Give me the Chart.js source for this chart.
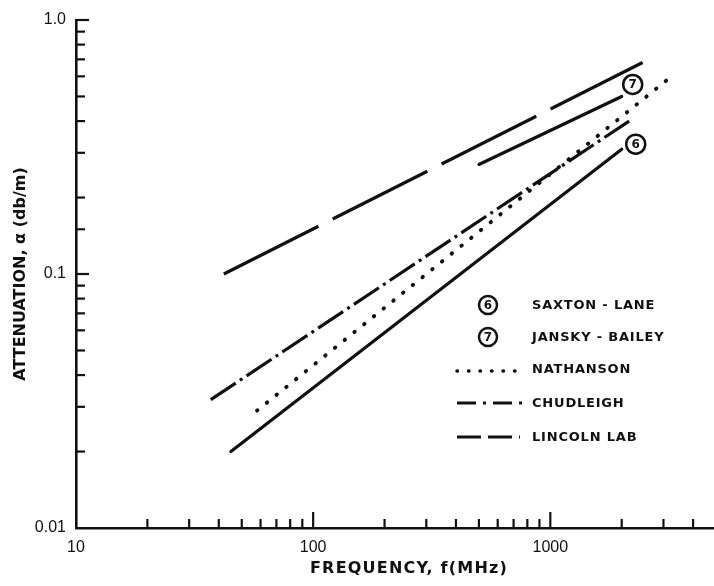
<!DOCTYPE html>
<html>
<head>
<meta charset="utf-8">
<script src="https://cdn.jsdelivr.net/npm/chart.js@4/dist/chart.umd.min.js"></script>
<style>
  html, body { margin: 0; padding: 0; background: #fff; }
  canvas { display: block; }
</style>
</head>
<body>
<canvas id="c" width="714" height="586"></canvas>
<script>
// Attenuation vs frequency, straight-line fits on log-log axes (endpoints of each line)
const saxtonLaneFreq   = [45, 2000];
const saxtonLaneAtten  = [0.020, 0.31];
const janskyBaileyFreq  = [500, 2000];
const janskyBaileyAtten = [0.27, 0.50];
const nathansonFreq    = [58, 3100];
const nathansonAtten   = [0.029, 0.58];
const chudleighFreq    = [37, 2150];
const chudleighAtten   = [0.032, 0.40];
const lincolnLabFreq   = [42, 2450];
const lincolnLabAtten  = [0.10, 0.68];

// Axis ticks
const xLabelTicks = [10, 100, 1000];
const xTickLabels = ['10', '100', '1000'];
const yLabelTicks = [0.01, 0.1, 1];
const yTickLabels = ['0.01', '0.1', '1.0'];
const xMajorMarks = [100, 1000];
const xMinorMarks = [20, 30, 40, 50, 60, 70, 80, 90,
                     200, 300, 400, 500, 600, 700, 800, 900,
                     2000, 3000, 4000];
const yMajorMarks = [0.1, 1];
const yMinorMarks = [0.02, 0.03, 0.04, 0.05, 0.06, 0.07, 0.08, 0.09,
                     0.15, 0.2, 0.3, 0.4, 0.5, 0.6, 0.7, 0.8, 0.9];

const INK = '#111';
const pairs = (xs, ys) => xs.map((x, i) => ({ x, y: ys[i] }));

const series = [
  { label: 'SAXTON-LANE',   data: pairs(saxtonLaneFreq, saxtonLaneAtten),   dash: [],            cap: 'round' },
  { label: 'JANSKY-BAILEY', data: pairs(janskyBaileyFreq, janskyBaileyAtten), dash: [],          cap: 'round' },
  { label: 'NATHANSON',     data: pairs(nathansonFreq, nathansonAtten),     dash: [0.5, 12],     cap: 'round', width: 3.9 },
  { label: 'CHUDLEIGH',     data: pairs(chudleighFreq, chudleighAtten),     dash: [30, 5, 3, 5], cap: 'butt' },
  { label: 'LINCOLN LAB',   data: pairs(lincolnLabFreq, lincolnLabAtten),   dash: [106, 16],     cap: 'butt' }
];

// Circled reference numbers attached to the upper end of a line
const circledNotes = [
  { seriesIndex: 1, text: '7', dx: 11, dy: -12 },
  { seriesIndex: 0, text: '6', dx: 14, dy: -5 }
];

function circled(ctx, x, y, r, txt) {
  ctx.save();
  ctx.lineWidth = 2.5;
  ctx.strokeStyle = INK;
  ctx.beginPath();
  ctx.arc(x, y, r, 0, Math.PI * 2);
  ctx.stroke();
  ctx.fillStyle = INK;
  ctx.font = 'bold 12px "DejaVu Sans"';
  ctx.textAlign = 'center';
  ctx.textBaseline = 'middle';
  ctx.fillText(txt, x, y + 0.5);
  ctx.restore();
}

const decorations = {
  id: 'decorations',
  afterDraw(chart) {
    const { ctx, scales: { x, y } } = chart;
    const bottom = y.bottom, left = x.left;
    ctx.save();
    ctx.strokeStyle = INK;
    ctx.lineWidth = 2.2;
    ctx.lineCap = 'butt';
    // inward tick marks on the frequency axis
    const tickX = (v, len) => {
      const px = x.getPixelForValue(v);
      ctx.beginPath(); ctx.moveTo(px, bottom); ctx.lineTo(px, bottom - len); ctx.stroke();
    };
    xMinorMarks.forEach(v => tickX(v, 9));
    xMajorMarks.forEach(v => tickX(v, 16));
    // inward tick marks on the attenuation axis
    const tickY = (v, len) => {
      const py = y.getPixelForValue(v);
      ctx.beginPath(); ctx.moveTo(left, py); ctx.lineTo(left + len, py); ctx.stroke();
    };
    yMinorMarks.forEach(v => tickY(v, 9));
    yMajorMarks.forEach(v => tickY(v, 13));
    ctx.restore();

    // circled numbers at line ends
    circledNotes.forEach(n => {
      const pts = series[n.seriesIndex].data;
      const end = pts[pts.length - 1];
      circled(ctx, x.getPixelForValue(end.x) + n.dx, y.getPixelForValue(end.y) + n.dy, 9.5, n.text);
    });

    // legend
    ctx.save();
    const lx0 = 457, lx1 = 520, tx = 532;
    const rows = [305, 337, 369, 403, 437];
    ctx.fillStyle = INK;
    ctx.font = 'bold 13px "DejaVu Sans"';
    ctx.letterSpacing = '0.8px';
    ctx.textAlign = 'left';
    ctx.textBaseline = 'middle';
    const legendText = ['SAXTON - LANE', 'JANSKY - BAILEY', 'NATHANSON', 'CHUDLEIGH', 'LINCOLN LAB'];
    legendText.forEach((t, i) => ctx.fillText(t, tx, rows[i] + 1));
    ctx.letterSpacing = '0px';
    circled(ctx, 488, rows[0], 9, '6');
    circled(ctx, 488, rows[1], 9, '7');
    ctx.strokeStyle = INK;
    // dotted sample
    ctx.lineWidth = 3.5; ctx.lineCap = 'round'; ctx.setLineDash([0.5, 11]);
    ctx.beginPath(); ctx.moveTo(lx0, rows[2] + 2); ctx.lineTo(lx1, rows[2] + 2); ctx.stroke();
    // dash-dot sample
    ctx.lineWidth = 3; ctx.lineCap = 'butt'; ctx.setLineDash([19, 7, 3, 7]);
    ctx.beginPath(); ctx.moveTo(lx0, rows[3]); ctx.lineTo(lx1 + 6, rows[3]); ctx.stroke();
    // long-dash sample
    ctx.setLineDash([24, 7]);
    ctx.beginPath(); ctx.moveTo(lx0, rows[4]); ctx.lineTo(lx1, rows[4]); ctx.stroke();
    ctx.setLineDash([]);

    // frequency axis title
    ctx.fillStyle = INK;
    ctx.font = 'bold 16px "DejaVu Sans"';
    ctx.letterSpacing = '1.2px';
    ctx.textAlign = 'center';
    ctx.textBaseline = 'middle';
    ctx.fillText('FREQUENCY, f(MHz)', 409, 569);
    ctx.restore();
  }
};

new Chart(document.getElementById('c'), {
  type: 'scatter',
  data: {
    datasets: series.map(s => ({
      label: s.label,
      data: s.data,
      showLine: true,
      borderColor: INK,
      backgroundColor: INK,
      borderWidth: s.width || 3.2,
      borderDash: s.dash,
      borderCapStyle: s.cap,
      pointRadius: 0,
      pointHoverRadius: 0,
      tension: 0
    }))
  },
  options: {
    responsive: false,
    animation: false,
    devicePixelRatio: 1,
    layout: { padding: { top: 20, right: 0, left: 0, bottom: 0 } },
    plugins: { legend: { display: false }, tooltip: { enabled: false } },
    scales: {
      x: {
        type: 'logarithmic',
        min: 10,
        max: 4900,
        grid: { display: false },
        border: { display: true, color: INK, width: 2.6 },
        afterFit: s => { s.height = 58; },
        afterBuildTicks: s => { s.ticks = xLabelTicks.map(v => ({ value: v })); },
        ticks: {
          autoSkip: false,
          maxRotation: 0,
          padding: 2,
          color: INK,
          font: { family: '"Liberation Sans"', size: 16 },
          callback: (v) => xTickLabels[xLabelTicks.indexOf(v)] ?? ''
        }
      },
      y: {
        type: 'logarithmic',
        min: 0.01,
        max: 1,
        grid: { display: false },
        border: { display: true, color: INK, width: 2.6 },
        afterFit: s => { s.width = 76; },
        afterBuildTicks: s => { s.ticks = yLabelTicks.map(v => ({ value: v })); },
        title: {
          display: true,
          text: 'ATTENUATION, \u03b1 (db/m)',
          color: INK,
          font: { family: '"DejaVu Sans"', size: 16, weight: 'bold' },
          padding: { top: 11, bottom: 0 }
        },
        ticks: {
          autoSkip: false,
          padding: 2,
          color: INK,
          font: { family: '"Liberation Sans"', size: 16 },
          callback: (v) => yTickLabels[yLabelTicks.indexOf(v)] ?? ''
        }
      }
    }
  },
  plugins: [decorations]
});
</script>
</body>
</html>
